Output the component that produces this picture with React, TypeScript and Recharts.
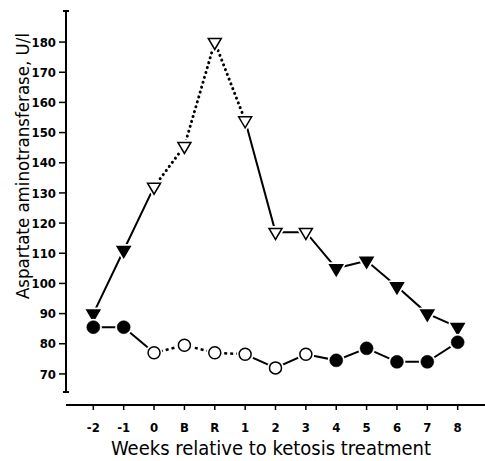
import React from 'react';
import { LineChart, Line, XAxis, YAxis, ReferenceLine, Label } from 'recharts';

const categories = ['-2', '-1', '0', 'B', 'R', '1', '2', '3', '4', '5', '6', '7', '8'];
const triangleValues = [90, 111, 132, 145.5, 180, 154, 117, 117, 105, 107.5, 99, 90, 85.5];
const circleValues = [85.5, 85.5, 77, 79.5, 77, 76.5, 72, 76.5, 74.5, 78.5, 74, 74, 80.5];
const openMarker = [false, false, true, true, true, true, true, true, false, false, false, false, false];
const yTicks = [70, 80, 90, 100, 110, 120, 130, 140, 150, 160, 170, 180];

// segments: solid up to '0', dotted '0'..'1', solid from '1'
const segA = (i: number) => i <= 2;
const segB = (i: number) => i >= 2 && i <= 5;
const segC = (i: number) => i >= 5;

const data = categories.map((c, i) => ({
  x: i,
  label: c,
  tri: triangleValues[i],
  cir: circleValues[i],
  triA: segA(i) ? triangleValues[i] : null,
  triB: segB(i) ? triangleValues[i] : null,
  triC: segC(i) ? triangleValues[i] : null,
  cirA: segA(i) ? circleValues[i] : null,
  cirB: segB(i) ? circleValues[i] : null,
  cirC: segC(i) ? circleValues[i] : null,
}));

const X_MIN = -0.9;
const X_MAX = 12.9;
const Y_MIN = 59.7;
const Y_MAX = 190.3;
const FONT = '"DejaVu Sans Condensed", "DejaVu Sans", sans-serif';
const TICK_FONT = '"Liberation Sans Narrow", "DejaVu Sans Condensed", sans-serif';

const TriangleDot = (props: any) => {
  const { cx, cy, index } = props;
  if (cx == null || cy == null) return <g key={`t${index}`} />;
  const w = 13;
  const h = 11;
  const d = `M${cx - w / 2},${cy - h / 3} L${cx + w / 2},${cy - h / 3} L${cx},${cy + (2 * h) / 3} Z`;
  const open = openMarker[index];
  return (
    <g key={`t${index}`}>
      <path d={d} fill="#fff" stroke="#fff" strokeWidth={5} strokeLinejoin="round" />
      <path d={d} fill={open ? '#fff' : '#000'} stroke="#000" strokeWidth={1.5} strokeLinejoin="miter" />
    </g>
  );
};

const CircleDot = (props: any) => {
  const { cx, cy, index } = props;
  if (cx == null || cy == null) return <g key={`c${index}`} />;
  const open = openMarker[index];
  return (
    <g key={`c${index}`}>
      <circle cx={cx} cy={cy} r={8.5} fill="#fff" />
      <circle cx={cx} cy={cy} r={open ? 6 : 6.5} fill={open ? '#fff' : '#000'} stroke="#000" strokeWidth={open ? 1.5 : 0.5} />
    </g>
  );
};

export default function App() {
  return (
    <div style={{ position: 'absolute', left: 0, top: 0, background: '#fff' }}>
      <LineChart width={485} height={461} data={data} margin={{ top: 11, right: 0, bottom: 26, left: 0 }}>
        <XAxis
          dataKey="x"
          type="number"
          domain={[X_MIN, X_MAX]}
          ticks={[0, 1, 2, 3, 4, 5, 6, 7, 8, 9, 10, 11, 12]}
          tickFormatter={(v: number) => categories[v]}
          allowDataOverflow
          height={30}
          axisLine={{ stroke: '#000', strokeWidth: 2 }}
          tickLine={{ stroke: '#000', strokeWidth: 1.5 }}
          tickSize={5}
          tickMargin={13}
          tick={{ fill: '#000', fontSize: 13, fontFamily: TICK_FONT, fontWeight: 'bold' }}
        >
          <Label
            content={() => (
              <text x={271} y={455} textAnchor="middle" fontSize={20} fontFamily={FONT} fill="#000">
                Weeks relative to ketosis treatment
              </text>
            )}
          />
        </XAxis>
        <YAxis
          type="number"
          domain={[Y_MIN, Y_MAX]}
          ticks={yTicks}
          allowDataOverflow
          width={66}
          axisLine={false}
          tickLine={{ stroke: '#000', strokeWidth: 1.5 }}
          tickSize={7}
          tickMargin={3}
          tick={{ fill: '#000', fontSize: 13, fontFamily: TICK_FONT, fontWeight: 'bold' }}
        >
          <Label
            content={() => (
              <text
                x={24}
                y={166}
                transform="rotate(-90 24 166)"
                textAnchor="middle"
                dominantBaseline="middle"
                fontSize={18.5}
                fontFamily={FONT}
                fill="#000"
              >
                Aspartate aminotransferase, U/l
              </text>
            )}
          />
        </YAxis>
        <ReferenceLine
          segment={[{ x: X_MIN, y: 64 }, { x: X_MIN, y: Y_MAX }]}
          stroke="#000"
          strokeWidth={2}
          ifOverflow="visible"
        />
        <ReferenceLine
          segment={[{ x: X_MIN - 0.1, y: Y_MAX }, { x: X_MIN + 0.1, y: Y_MAX }]}
          stroke="#000"
          strokeWidth={2}
          ifOverflow="visible"
        />
        <ReferenceLine
          segment={[{ x: X_MIN - 0.1, y: 64 }, { x: X_MIN + 0.1, y: 64 }]}
          stroke="#000"
          strokeWidth={2}
          ifOverflow="visible"
        />
        <Line dataKey="triA" stroke="#000" strokeWidth={2} dot={false} isAnimationActive={false} connectNulls={false} type="linear" />
        <Line dataKey="triB" stroke="#000" strokeWidth={3} strokeDasharray="0.1 5" strokeLinecap="round" dot={false} isAnimationActive={false} connectNulls={false} type="linear" />
        <Line dataKey="triC" stroke="#000" strokeWidth={2} dot={false} isAnimationActive={false} connectNulls={false} type="linear" />
        <Line dataKey="cirA" stroke="#000" strokeWidth={2} dot={false} isAnimationActive={false} connectNulls={false} type="linear" />
        <Line dataKey="cirB" stroke="#000" strokeWidth={2.5} strokeDasharray="3 3" dot={false} isAnimationActive={false} connectNulls={false} type="linear" />
        <Line dataKey="cirC" stroke="#000" strokeWidth={2} dot={false} isAnimationActive={false} connectNulls={false} type="linear" />
        <Line dataKey="tri" stroke="none" dot={TriangleDot} activeDot={false} isAnimationActive={false} type="linear" />
        <Line dataKey="cir" stroke="none" dot={CircleDot} activeDot={false} isAnimationActive={false} type="linear" />
      </LineChart>
    </div>
  );
}
